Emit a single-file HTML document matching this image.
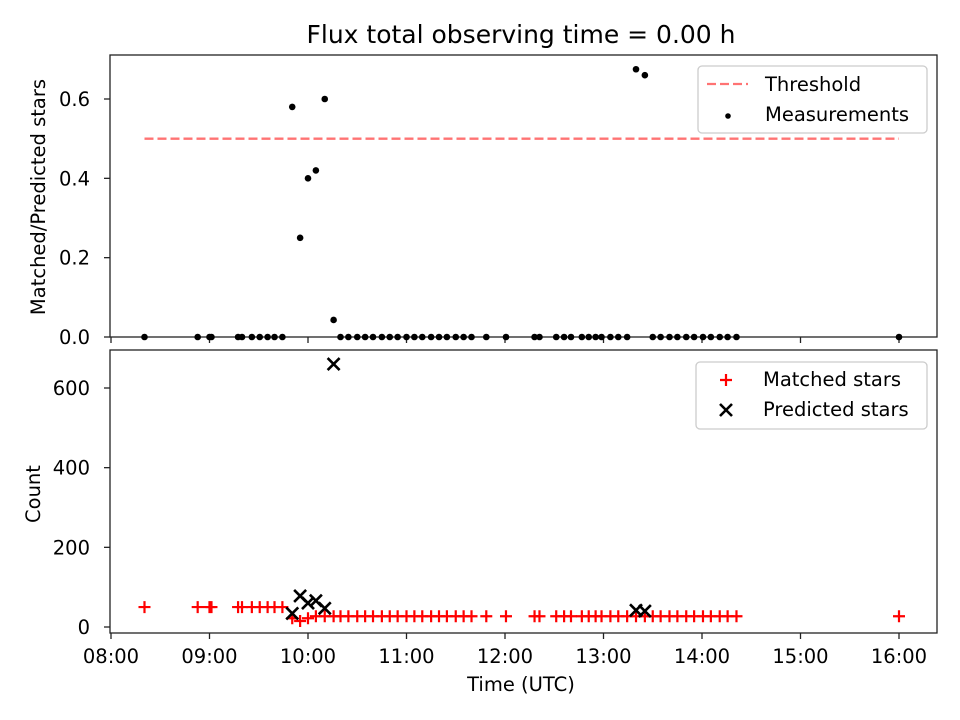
<!DOCTYPE html>
<html><head><meta charset="utf-8"><style>
body{margin:0;background:#fff;}
svg{display:block;font-family:"DejaVu Sans","Liberation Sans",sans-serif;}
</style></head><body>
<svg id="fig" width="960" height="720" viewBox="0 0 960 720"></svg>
<script>
const times=[8.34,8.88,9.00,9.02,9.29,9.33,9.43,9.51,9.59,9.66,9.74,9.84,9.92,10.00,10.08,10.17,10.26,
10.33,10.41,10.50,10.58,10.66,10.75,10.83,10.91,11.00,11.08,11.16,11.25,11.33,11.41,11.50,11.58,11.66,11.81,12.01,
12.30,12.35,12.52,12.60,12.67,12.78,12.85,12.92,12.98,13.07,13.15,13.24,13.33,13.42,
13.50,13.58,13.67,13.75,13.84,13.92,14.01,14.09,14.18,14.26,14.35,16.00];
const ratio=[0,0,0,0,0,0,0,0,0,0,0,0.58,0.25,0.40,0.42,0.60,0.043,
0,0,0,0,0,0,0,0,0,0,0,0,0,0,0,0,0,0,0,
0,0,0,0,0,0,0,0,0,0,0,0,0.675,0.66,
0,0,0,0,0,0,0,0,0,0,0,0];
const matched=[50,50,50,50,50,50,50,50,50,50,50,22,15,22,27,27,27,
27,27,27,27,27,27,27,27,27,27,27,27,27,27,27,27,27,27,27,
27,27,27,27,27,27,27,27,27,27,27,27,27,27,
27,27,27,27,27,27,27,27,27,27,27,27];
const predicted=[null,null,null,null,null,null,null,null,null,null,null,34,78,60,66,47,660,
null,null,null,null,null,null,null,null,null,null,null,null,null,null,null,null,null,null,null,
null,null,null,null,null,null,null,null,null,null,null,null,42,40,
null,null,null,null,null,null,null,null,null,null,null,null];
const threshold=0.5;
const xTicks=[8,9,10,11,12,13,14,15,16];
const xTickLabels=["08:00","09:00","10:00","11:00","12:00","13:00","14:00","15:00","16:00"];
const yTopTicks=[0,0.2,0.4,0.6];
const yTopLabels=["0.0","0.2","0.4","0.6"];
const yBotTicks=[0,200,400,600];
const yBotLabels=["0","200","400","600"];

const NS="http://www.w3.org/2000/svg";
const svg=document.getElementById('fig');
function el(tag,attrs,parent){const e=document.createElementNS(NS,tag);for(const k in attrs)e.setAttribute(k,attrs[k]);(parent||svg).appendChild(e);return e;}
const L=110,R=937;
const FS=19.5;
const x=t=>L+1+(t-8)*(899-111)/8;
const T={top:55,bot:337};const yT=v=>337-v*(337-99)/0.6;
const B={top:350,bot:633};const yB=v=>627-v*(627-388)/600;

let t=el('text',{x:521,y:43,'text-anchor':'middle','font-size':25,textLength:429,lengthAdjust:'spacingAndGlyphs'});t.textContent='Flux total observing time = 0.00 h';


function axes(box,name){
  const r=el('rect',{x:L,y:box.top,width:R-L,height:box.bot-box.top,fill:'none',stroke:'#222','stroke-width':1.3});
  
  xTicks.forEach((v)=>{const k=el('line',{x1:x(v),x2:x(v),y1:box.bot,y2:box.bot+6,stroke:'#222','stroke-width':1.3});
    });
}
axes(T,'top-axes');axes(B,'bottom-axes');
xTicks.forEach((v,i)=>{const tx=el('text',{x:x(v),y:663,'text-anchor':'middle','font-size':FS});tx.textContent=xTickLabels[i];
  });
yTopTicks.forEach((v,i)=>{el('line',{x1:L-6,x2:L,y1:yT(v),y2:yT(v),stroke:'#222','stroke-width':1.3});
  const tx=el('text',{x:L-20,y:yT(v)+7,'text-anchor':'end','font-size':FS});tx.textContent=yTopLabels[i];
  });
yBotTicks.forEach((v,i)=>{el('line',{x1:L-6,x2:L,y1:yB(v),y2:yB(v),stroke:'#222','stroke-width':1.3});
  const tx=el('text',{x:L-20,y:yB(v)+7,'text-anchor':'end','font-size':FS});tx.textContent=yBotLabels[i];
  });
let a=el('text',{x:521,y:691,'text-anchor':'middle','font-size':FS});a.textContent='Time (UTC)';

a=el('text',{x:45,y:197,'text-anchor':'middle','font-size':FS,transform:'rotate(-90 45 197)'});a.textContent='Matched/Predicted stars';

a=el('text',{x:40,y:494,'text-anchor':'middle','font-size':FS,transform:'rotate(-90 40 494)'});a.textContent='Count';


const th=el('line',{x1:x(times[0]),x2:x(times[times.length-1]),y1:yT(threshold),y2:yT(threshold),stroke:'#ff7373','stroke-width':2.3,'stroke-dasharray':'9 4'});

times.forEach((tm,i)=>{const c=el('circle',{cx:x(tm),cy:yT(ratio[i]),r:3.3,fill:'#000'});
  });
times.forEach((tm,i)=>{const cx=x(tm),cy=yB(matched[i]);const g=el('path',{d:`M${cx-6} ${cy}H${cx+6}M${cx} ${cy-6}V${cy+6}`,stroke:'#f00','stroke-width':2.2});
  });
times.forEach((tm,i)=>{if(predicted[i]==null)return;const cx=x(tm),cy=yB(predicted[i]);const g=el('path',{d:`M${cx-6} ${cy-6}L${cx+6} ${cy+6}M${cx-6} ${cy+6}L${cx+6} ${cy-6}`,stroke:'#000','stroke-width':2.6});
  });

let lg=el('rect',{x:698,y:66,width:229,height:67,rx:4,fill:'#fff','fill-opacity':0.8,stroke:'#ccc','stroke-width':1.3});

el('line',{x1:707,x2:748,y1:84,y2:84,stroke:'#ff7373','stroke-width':2.3,'stroke-dasharray':'9 4'});
let lt=el('text',{x:765,y:91,'font-size':FS});lt.textContent='Threshold';
el('circle',{cx:728,cy:116,r:2.8,fill:'#000'});
lt=el('text',{x:765,y:121,'font-size':FS});lt.textContent='Measurements';

lg=el('rect',{x:696,y:362,width:231,height:67,rx:4,fill:'#fff','fill-opacity':0.8,stroke:'#ccc','stroke-width':1.3});

el('path',{d:'M720 380H732M726 374V386',stroke:'#f00','stroke-width':2.2});
lt=el('text',{x:763,y:386,'font-size':FS});lt.textContent='Matched stars';
el('path',{d:'M720 404L732 416M720 416L732 404',stroke:'#000','stroke-width':2.6});
lt=el('text',{x:763,y:416,'font-size':FS});lt.textContent='Predicted stars';
</script>
</body></html>
